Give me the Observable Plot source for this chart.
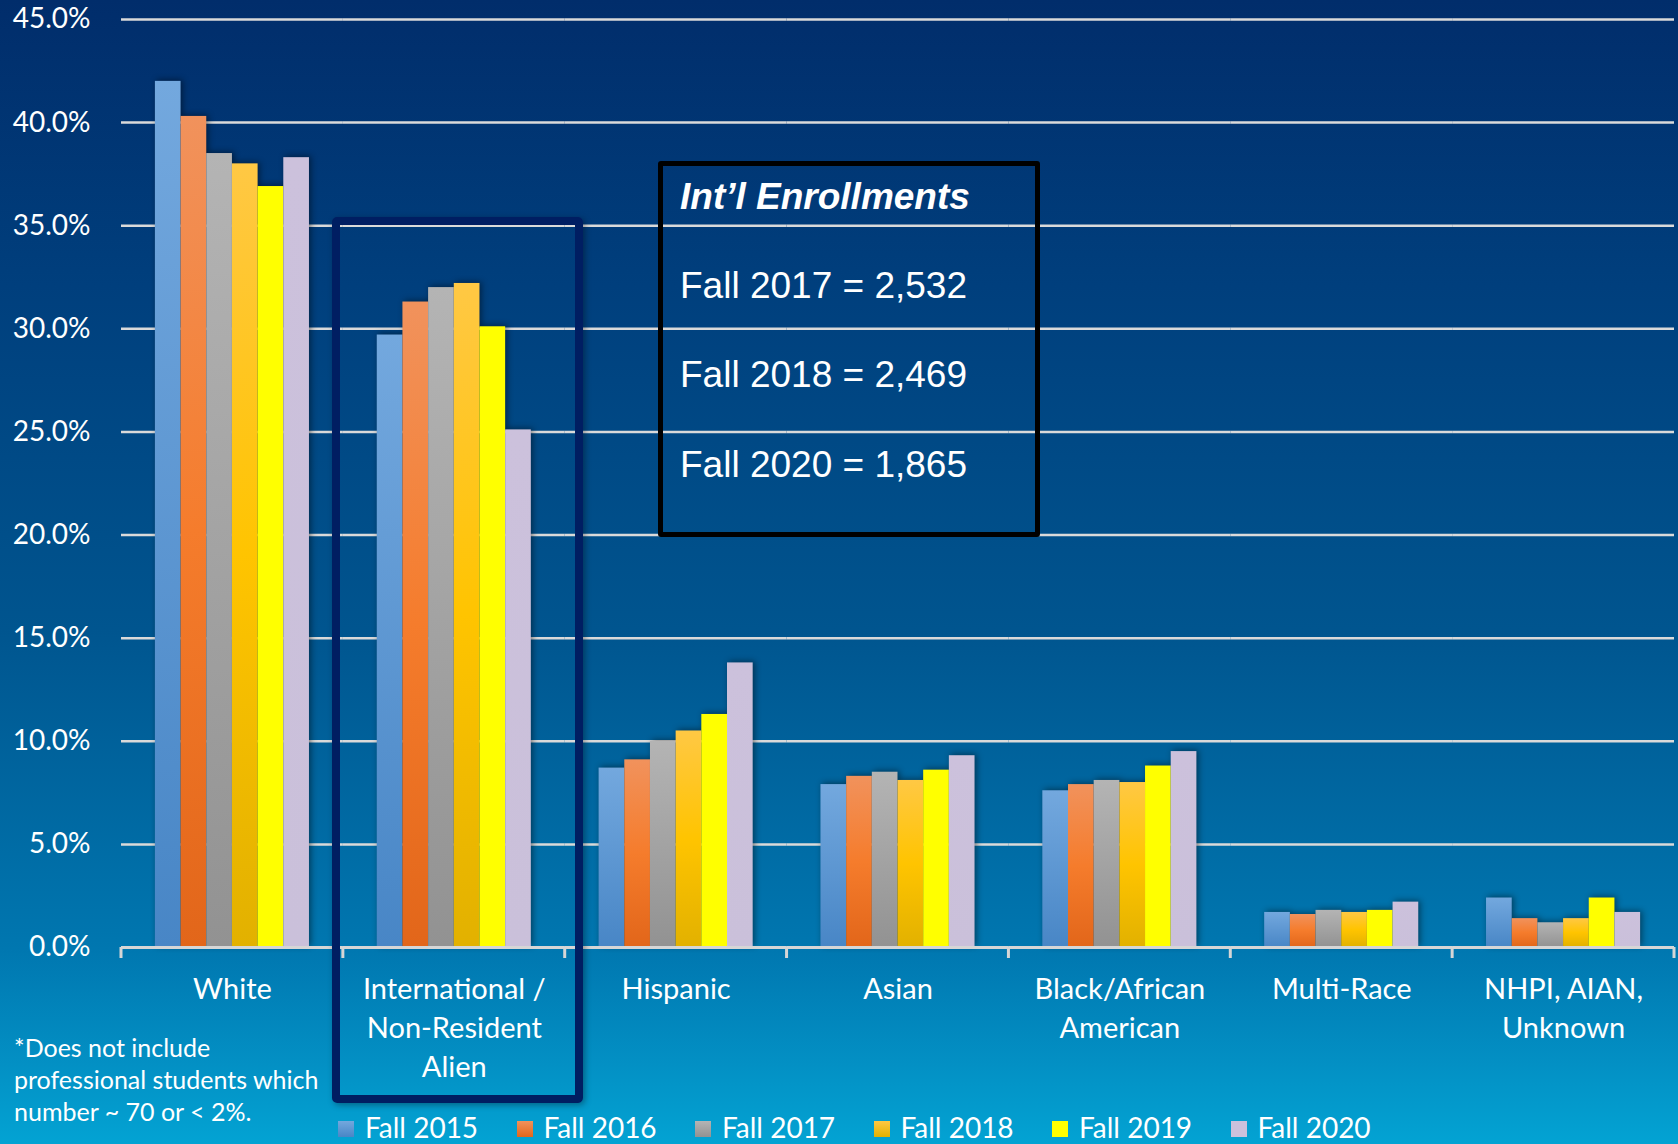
<!DOCTYPE html>
<html>
<head>
<meta charset="utf-8">
<script src="https://cdn.jsdelivr.net/npm/d3@7"></script>
<script src="https://cdn.jsdelivr.net/npm/@observablehq/plot@0.6"></script>
<style>
  html, body { margin: 0; padding: 0; }
  body { width: 1678px; height: 1144px; overflow: hidden; }
  #wrap {
    position: relative; width: 1678px; height: 1144px;
    background: linear-gradient(to bottom, #012d6b 0%, #003f7d 25%, #00558f 55%, #0077b0 83%, #0390c4 93%, #03a3d3 100%);
    font-family: Lato, sans-serif; color: #fff;
  }
  #chart svg { display: block; }
  .legend { height: 54px; box-sizing: border-box; padding-top: 20px; padding-left: 338px; display: flex; align-items: center; font-size: 28px; }
  .legend .item { width: 178.5px; display: flex; align-items: center; flex: none; }
  .legend .sw { width: 16px; height: 16px; margin-right: 11px; margin-top: 4px; flex: none; }
  .hl { position: absolute; left: 332px; top: 217px; width: 251px; height: 886px; box-sizing: border-box;
        border: 8px solid #001e62; border-radius: 5px; box-shadow: 2px 2px 6px rgba(0,0,0,0.35); pointer-events: none; }
  .ibox { position: absolute; left: 658px; top: 161px; width: 382px; height: 376px; box-sizing: border-box;
          border: 5px solid #000; border-radius: 3px; pointer-events: none; }
  .itxt { position: absolute; left: 680px; font-family: "Liberation Sans", Arial, sans-serif; font-size: 37px; line-height: 37px; white-space: nowrap; }
  .note { position: absolute; left: 14px; top: 1031px; font-size: 25px; line-height: 32px; white-space: pre; }
</style>
</head>
<body>
<div id="wrap">
  <div id="chart"></div>
</div>
<script>
// ---- data ----
const categories = ["White", "International / Non-Resident Alien", "Hispanic", "Asian", "Black/African American", "Multi-Race", "NHPI, AIAN, Unknown"];
const tickLabels = ["White", "International /\nNon-Resident\nAlien", "Hispanic", "Asian", "Black/African\nAmerican", "Multi-Race", "NHPI, AIAN,\nUnknown"];
const series = ["Fall 2015", "Fall 2016", "Fall 2017", "Fall 2018", "Fall 2019", "Fall 2020"];
const fall2015 = [42.0, 29.7, 8.7, 7.9, 7.6, 1.7, 2.4];
const fall2016 = [40.3, 31.3, 9.1, 8.3, 7.9, 1.6, 1.4];
const fall2017 = [38.5, 32.0, 10.0, 8.5, 8.1, 1.8, 1.2];
const fall2018 = [38.0, 32.2, 10.5, 8.1, 8.0, 1.7, 1.4];
const fall2019 = [36.9, 30.1, 11.3, 8.6, 8.8, 1.8, 2.4];
const fall2020 = [38.3, 25.1, 13.8, 9.3, 9.5, 2.2, 1.7];
const yTicks = [0, 5, 10, 15, 20, 25, 30, 35, 40, 45];
const intlTitle = "Int\u2019l Enrollments";
const intlLines = ["Fall 2017 = 2,532", "Fall 2018 = 2,469", "Fall 2020 = 1,865"];
const footnote = "*Does not include\nprofessional students which\nnumber ~ 70 or < 2%.";

// ---- styles ----
const gradStops = [
  [["0", "#73a8de"], ["1", "#4886c6"]],
  [["0", "#f1925c"], ["0.5", "#f57c2c"], ["1", "#e2661a"]],
  [["0", "#b4b4b4"], ["1", "#929292"]],
  [["0", "#ffc844"], ["0.5", "#ffc400"], ["1", "#e2b100"]],
  [["0", "#ffff00"], ["1", "#ffff00"]],
  [["0", "#ccc1dc"], ["1", "#cac0da"]]
];
const legendCss = [
  "linear-gradient(#73a8de,#4886c6)", "linear-gradient(#f1925c,#e2661a)", "linear-gradient(#b4b4b4,#929292)",
  "linear-gradient(#ffc844,#e2b100)", "#ffff00", "#ccc1dc"
];

const values = [fall2015, fall2016, fall2017, fall2018, fall2019, fall2020];
const rows = categories.flatMap((c, i) => series.map((s, j) => ({category: c, series: s, value: values[j][i]})));

const chart = Plot.plot({
  width: 1678, height: 1090,
  marginLeft: 121, marginRight: 4, marginTop: 19, marginBottom: 143,
  style: {background: "transparent", color: "#fff", fontFamily: "Lato, sans-serif", fontSize: "28px", overflow: "visible"},
  fx: {domain: categories, padding: 0, round: false, label: null},
  x: {domain: series, paddingInner: 0, paddingOuter: 1.32, round: false, axis: null, label: null},
  y: {domain: [0, 45], label: null},
  color: {domain: series, range: series.map((s, i) => `url(#grad${i})`)},
  marks: [
    Plot.gridY(yTicks, {stroke: "#dadada", strokeOpacity: 1, strokeWidth: 2.5}),
    Plot.barY(rows, {fx: "category", x: "series", y: "value", fill: "series"}),
    Plot.ruleY([0], {stroke: "#d6d6d6", strokeWidth: 3}),
    Plot.axisY(yTicks, {tickSize: 0, tickPadding: 31, label: null, tickFormat: d => d.toFixed(1) + "%", fontSize: 28, fill: "#fff"}),
    Plot.axisFx({anchor: "bottom", tickSize: 0, tickPadding: 24, label: null, fontSize: 29, lineHeight: 1.34, fill: "#fff",
                 tickFormat: c => tickLabels[categories.indexOf(c)]})
  ]
});

const svg = d3.select(chart);
const defs = svg.insert("defs", ":first-child");
gradStops.forEach((stops, i) => {
  const g = defs.append("linearGradient").attr("id", "grad" + i)
    .attr("x1", 0).attr("y1", 0).attr("x2", 0).attr("y2", 1);
  stops.forEach(([o, c]) => g.append("stop").attr("offset", o).attr("stop-color", c));
});
svg.selectAll('g[aria-label="bar"]').style("filter", "drop-shadow(2px -1px 3px rgba(0,0,0,0.45))");

// category boundary ticks on the baseline, from the library's fx scale
const fx = chart.scale("fx");
const yS = chart.scale("y");
const y0 = yS.apply(0);
const bounds = categories.map(c => fx.apply(c));
bounds.push(fx.apply(categories[categories.length - 1]) + fx.bandwidth);
const tg = svg.append("g");
bounds.forEach(b => {
  tg.append("line").attr("x1", b).attr("x2", b).attr("y1", y0).attr("y2", y0 + 11)
    .attr("stroke", "#d6d6d6").attr("stroke-width", 3);
});

document.getElementById("chart").appendChild(chart);

const wrap = document.getElementById("wrap");
// legend below
const legend = document.createElement("div");
legend.className = "legend";
series.forEach((s, i) => {
  const it = document.createElement("div");
  it.className = "item";
  const sw = document.createElement("span");
  sw.className = "sw";
  sw.style.background = legendCss[i];
  const t = document.createElement("span");
  t.textContent = s;
  it.appendChild(sw); it.appendChild(t);
  legend.appendChild(it);
});
wrap.appendChild(legend);

// footnote
const note = document.createElement("div");
note.className = "note";
note.textContent = footnote;
wrap.appendChild(note);

// highlight around International group
const hl = document.createElement("div");
hl.className = "hl";
wrap.appendChild(hl);

// Int'l enrollments box
const ibox = document.createElement("div");
ibox.className = "ibox";
wrap.appendChild(ibox);
const tops = [178, 267, 356, 446];
[intlTitle, ...intlLines].forEach((txt, i) => {
  const d = document.createElement("div");
  d.className = "itxt";
  d.style.top = tops[i] + "px";
  if (i === 0) { d.style.fontWeight = "bold"; d.style.fontStyle = "italic"; }
  d.textContent = txt;
  wrap.appendChild(d);
});
</script>
</body>
</html>
